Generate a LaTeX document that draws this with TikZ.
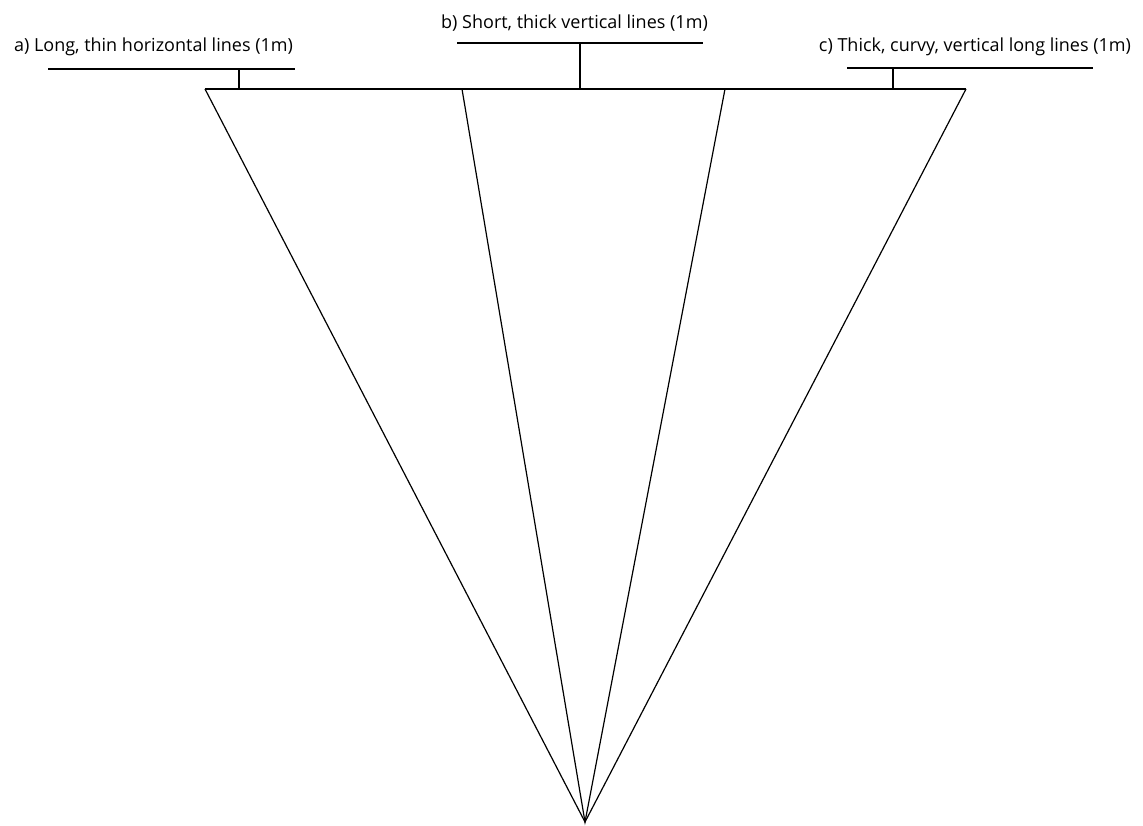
\documentclass[tikz,border=0pt]{standalone}
\usepackage{fontspec}
\setmainfont{Open Sans}
\begin{document}
\begin{tikzpicture}[x=1pt,y=-1pt,
  ln/.style={line width=1.2pt, black},
  lab/.style={font=\fontsize{18}{20}\selectfont, inner sep=0pt, anchor=center}]
\useasboundingbox (0,0) rectangle (1143,826);
% main frame
\coordinate (TL) at (205,89);
\coordinate (TR) at (966,89);
\coordinate (M1) at (462,89);
\coordinate (M2) at (725,89);
\coordinate (A) at (585,822);
\coordinate (SA) at (239,89);
\coordinate (SB) at (580,89);
\coordinate (SC) at (893,89);
\draw[ln] (TL) -- (TR);
\draw[ln] (TL) -- (A) -- (TR);
\draw[ln] (M1) -- (A) -- (M2);
% labels
\node[lab] (la) at (153.5,47) {a) Long, thin horizontal lines (1m)};
\node[lab] (lb) at (574.5,23) {b) Short, thick vertical lines (1m)};
\node[lab] (lc) at (975,47) {c) Thick, curvy, vertical long lines (1m)};
% brackets
\coordinate (a1) at (48,69); \coordinate (a2) at (295,69); \coordinate (am) at (239,69);
\coordinate (b1) at (457,43); \coordinate (b2) at (703,43); \coordinate (bm) at (580,43);
\coordinate (c1) at (847,68); \coordinate (c2) at (1093,68); \coordinate (cm) at (893,68);
\draw[ln] (a1) -- (a2); \draw[ln] (am) -- (SA);
\draw[ln] (b1) -- (b2); \draw[ln] (bm) -- (SB);
\draw[ln] (c1) -- (c2); \draw[ln] (cm) -- (SC);
\end{tikzpicture}
\end{document}
